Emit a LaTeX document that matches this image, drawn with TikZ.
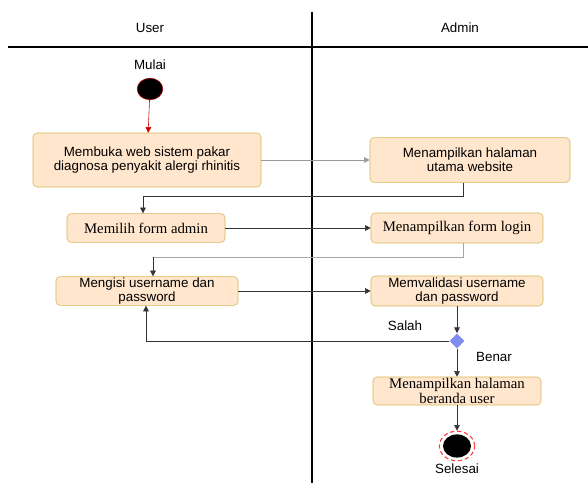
\documentclass[tikz,border=0pt]{standalone}
\usepackage{fontspec}
\setmainfont{Liberation Serif}
\setsansfont{Liberation Sans}
\usetikzlibrary{arrows.meta,shapes.geometric}
\definecolor{actfill}{HTML}{FFE6CC}
\definecolor{actline}{HTML}{D6B656}
\definecolor{decfill}{HTML}{7F8CF0}
\begin{document}
\begin{tikzpicture}[x=0.025cm,y=-0.025cm,
    every node/.style={font=\sffamily\fontsize{9.5}{10}\selectfont},
    actbox/.style={draw=actline,fill=actfill,rounded corners=3pt,align=center,inner sep=0.5pt,
      font=\sffamily\fontsize{9.5}{10}\selectfont},
    actserif/.style={actbox,font=\rmfamily\fontsize{10.5}{10.5}\selectfont},
    flow/.style={draw=black!80,-{Triangle[length=4pt,width=4pt]}},
    faint/.style={draw=black!35}]
  \useasboundingbox (0,0) rectangle (588,490);
  % swimlanes
  \draw[thick] (8,47) -- (588,47);
  \draw[thick] (312,12) -- (312,483);
  \node (user) at (150,28) {User};
  \node (admin) at (460,28) {Admin};
  % start
  \node (mulai) at (150,65) {Mulai};
  \node[ellipse,fill=black,draw=red!70!black,minimum width=0.64cm,minimum height=0.54cm] (start) at (150,89) {};
  % user lane
  \node[actbox,minimum width=5.7cm,minimum height=1.35cm] (buka) at (147,160)
    {Membuka web sistem pakar\\diagnosa penyakit alergi rhinitis};
  \node[actserif,minimum width=3.95cm,minimum height=0.72cm] (pilih) at (146,228) {Memilih form admin};
  \node[actbox,minimum width=4.55cm,minimum height=0.72cm] (isi) at (147,291)
    {Mengisi username dan\\password};
  % admin lane
  \node[actbox,minimum width=5cm,minimum height=1.12cm] (utama) at (470,160)
    {Menampilkan halaman\\utama website};
  \node[actserif,minimum width=4.3cm,minimum height=0.75cm] (login) at (457,228) {Menampilkan form login};
  \node[actbox,minimum width=4.3cm,minimum height=0.75cm] (valid) at (457,291)
    {Memvalidasi username\\dan password};
  \node[diamond,fill=decfill,inner sep=0pt,minimum size=0.38cm] (cek) at (457,341) {};
  \node[actserif,minimum width=4.2cm,minimum height=0.7cm] (beranda) at (457,391)
    {Menampilkan halaman\\beranda user};
  % end
  \node[ellipse,draw=red!75,densely dashed,thick,minimum width=0.88cm,minimum height=0.74cm] (stop) at (457,446) {};
  \fill (stop.center) ellipse [x radius=0.35cm,y radius=0.29cm];
  \node (selesai) at (457,469) {Selesai};
  \node (salah) at (405,326) {Salah};
  \node (benar) at (494,357) {Benar};
  % connectors
  \draw[draw=red!80!black,-{Triangle[length=4pt,width=4pt]}] (start) -- (buka);
  \draw[flow,draw=black!40] (buka) -- (utama);
  \draw[flow] (utama.south -| 463,0) |- (143,196) -- (pilih.north -| 143,0);
  \draw[flow] (pilih) -- (login);
  \draw[faint] (login.south -| 463,0) |- (153,257);
  \draw[flow] (153,257) -- (isi.north -| 153,0);
  \draw[flow] (isi) -- (valid);
  \draw[flow] (valid) -- (cek);
  \draw[flow] (cek) -| (isi.south -| 146,0);
  \draw[flow] (cek) -- (beranda);
  \draw[flow] (beranda) -- (stop);
\end{tikzpicture}
\end{document}
